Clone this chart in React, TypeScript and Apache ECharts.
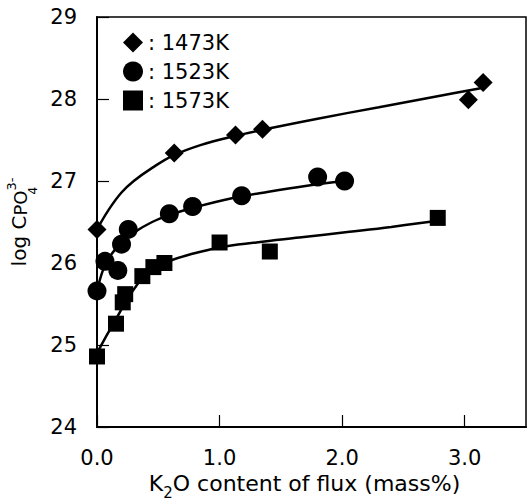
import React, { useEffect, useRef } from 'react';
import * as echarts from 'echarts';

// ---- data ----
const seriesNames = ['1473K', '1523K', '1573K'];
const seriesSymbols = ['diamond', 'circle', 'rect'];

const x1473 = [0, 0.63, 1.13, 1.35, 3.03, 3.15];
const y1473 = [26.41, 27.34, 27.56, 27.63, 27.99, 28.2];

const x1523 = [0, 0.065, 0.17, 0.2, 0.255, 0.59, 0.78, 1.18, 1.8, 2.02];
const y1523 = [25.66, 26.02, 25.91, 26.23, 26.41, 26.6, 26.69, 26.82, 27.05, 27.0];

const x1573 = [0, 0.155, 0.21, 0.23, 0.37, 0.46, 0.55, 1.0, 1.41, 2.78];
const y1573 = [24.86, 25.26, 25.52, 25.62, 25.84, 25.95, 26.0, 26.25, 26.14, 26.55];

// fitted curves
const fitX1473 = [0, 0.1, 0.2, 0.3, 0.45, 0.62, 0.85, 1.1, 1.4, 1.8, 2.3, 2.8, 3.13];
const fitY1473 = [26.41, 26.66, 26.86, 27.0, 27.16, 27.31, 27.44, 27.54, 27.64, 27.76, 27.9, 28.04, 28.13];

const fitX1523 = [0, 0.05, 0.1, 0.2, 0.3, 0.45, 0.6, 0.8, 1.1, 1.4, 1.7, 2.02];
const fitY1523 = [25.66, 25.92, 26.07, 26.25, 26.37, 26.5, 26.59, 26.68, 26.79, 26.87, 26.94, 27.0];

const fitX1573 = [0, 0.08, 0.16, 0.24, 0.32, 0.4, 0.5, 0.6, 0.75, 1.0, 1.3, 1.65, 2.06, 2.4, 2.75];
const fitY1573 = [24.9, 25.12, 25.33, 25.54, 25.72, 25.86, 25.96, 26.03, 26.1, 26.19, 26.25, 26.31, 26.38, 26.44, 26.51];

const xMin = 0;
const xMax = 3.5;
const xInterval = 1;
const yMin = 24;
const yMax = 29;
const yInterval = 1;

const FONT = 'DejaVu Sans';

function zip(xs: number[], ys: number[]) {
  return xs.map((x, i) => [x, ys[i]]);
}

export default function App() {
  const ref = useRef<HTMLDivElement>(null);
  useEffect(() => {
    const chart = echarts.init(ref.current!, null, { renderer: 'svg' });
    const pts = [zip(x1473, y1473), zip(x1523, y1523), zip(x1573, y1573)];
    const fits = [zip(fitX1473, fitY1473), zip(fitX1523, fitY1523), zip(fitX1573, fitY1573)];
    const symbolSizes = [19, 19, 16];

    const series: any[] = [];
    fits.forEach((d, i) => {
      series.push({
        name: 'fit ' + seriesNames[i],
        type: 'line',
        data: d,
        smooth: 0.4,
        showSymbol: false,
        symbol: 'none',
        lineStyle: { color: '#000', width: 2.5 },
        z: 2,
        silent: true,
      });
    });
    pts.forEach((d, i) => {
      series.push({
        name: seriesNames[i],
        type: 'scatter',
        data: d,
        symbol: seriesSymbols[i],
        symbolSize: symbolSizes[i],
        itemStyle: { color: '#000', opacity: 1 },
        z: 3,
      });
    });

    chart.setOption({
      animation: false,
      backgroundColor: '#fff',
      textStyle: { fontFamily: FONT, color: '#000' },
      grid: {
        left: 97,
        right: 2,
        top: 17,
        bottom: 75,
        containLabel: false,
        outerBoundsMode: 'none',
        show: true,
        borderColor: '#000',
        borderWidth: 1.5,
        backgroundColor: 'transparent',
      },
      legend: {
        data: seriesNames.map((n, i) => ({ name: n, icon: seriesSymbols[i], itemStyle: { color: '#000', opacity: 1 } })),
        orient: 'vertical',
        left: 118,
        top: 27,
        itemWidth: 20,
        itemHeight: 20,
        itemGap: 8,
        formatter: (n: string) => ': ' + n,
        textStyle: { fontFamily: FONT, fontSize: 21, color: '#000', lineHeight: 20 },
        selectedMode: false,
      },
      xAxis: {
        type: 'value',
        min: xMin,
        max: xMax,
        interval: xInterval,
        axisLine: { lineStyle: { color: '#000', width: 2 } },
        axisTick: { inside: true, length: 12, lineStyle: { color: '#000', width: 1.2 } },
        splitLine: { show: false },
        axisLabel: {
          fontSize: 21,
          color: '#000',
          margin: 20,
          showMaxLabel: false,
          formatter: (v: number) => (Number.isInteger(v) ? v.toFixed(1) : ''),
        },
        name: '{a|K}{b|2}{a|O content of flux (mass%)}',
        nameLocation: 'middle',
        nameGap: 40,
        nameTextStyle: {
          padding: [0, 14, 0, 0],
          rich: {
            a: { fontFamily: FONT, fontSize: 22, lineHeight: 22, verticalAlign: 'top', color: '#000' },
            b: { fontFamily: FONT, fontSize: 15, lineHeight: 15, verticalAlign: 'top', padding: [13, 0, 0, 0], color: '#000' },
          },
        },
      },
      yAxis: {
        type: 'value',
        min: yMin,
        max: yMax,
        interval: yInterval,
        axisLine: { lineStyle: { color: '#000', width: 2 } },
        axisTick: { inside: true, length: 12, lineStyle: { color: '#000', width: 1.2 } },
        splitLine: { show: false },
        axisLabel: { fontSize: 21, color: '#000', margin: 20 },
        name: '{m|log C}{s|PO}{b|4}{p|3-}',
        nameLocation: 'middle',
        nameRotate: 90,
        nameGap: 64,
        nameTextStyle: {
          rich: {
            m: { fontFamily: FONT, fontSize: 20, lineHeight: 20, verticalAlign: 'top', padding: [10, 0, 0, 0], color: '#000' },
            s: { fontFamily: FONT, fontSize: 18, lineHeight: 18, verticalAlign: 'top', padding: [12, 0, 0, 0], color: '#000' },
            b: { fontFamily: FONT, fontSize: 12, lineHeight: 12, verticalAlign: 'top', padding: [28, 0, 0, 0], width: 0, color: '#000' },
            p: { fontFamily: FONT, fontSize: 13, lineHeight: 13, verticalAlign: 'top', padding: [6, 0, 0, 0], color: '#000' },
          },
        },
      },
      series,
    });
    return () => chart.dispose();
  }, []);
  return <div ref={ref} style={{ position: 'absolute', left: 0, top: 0, width: 528, height: 502 }} />;
}
